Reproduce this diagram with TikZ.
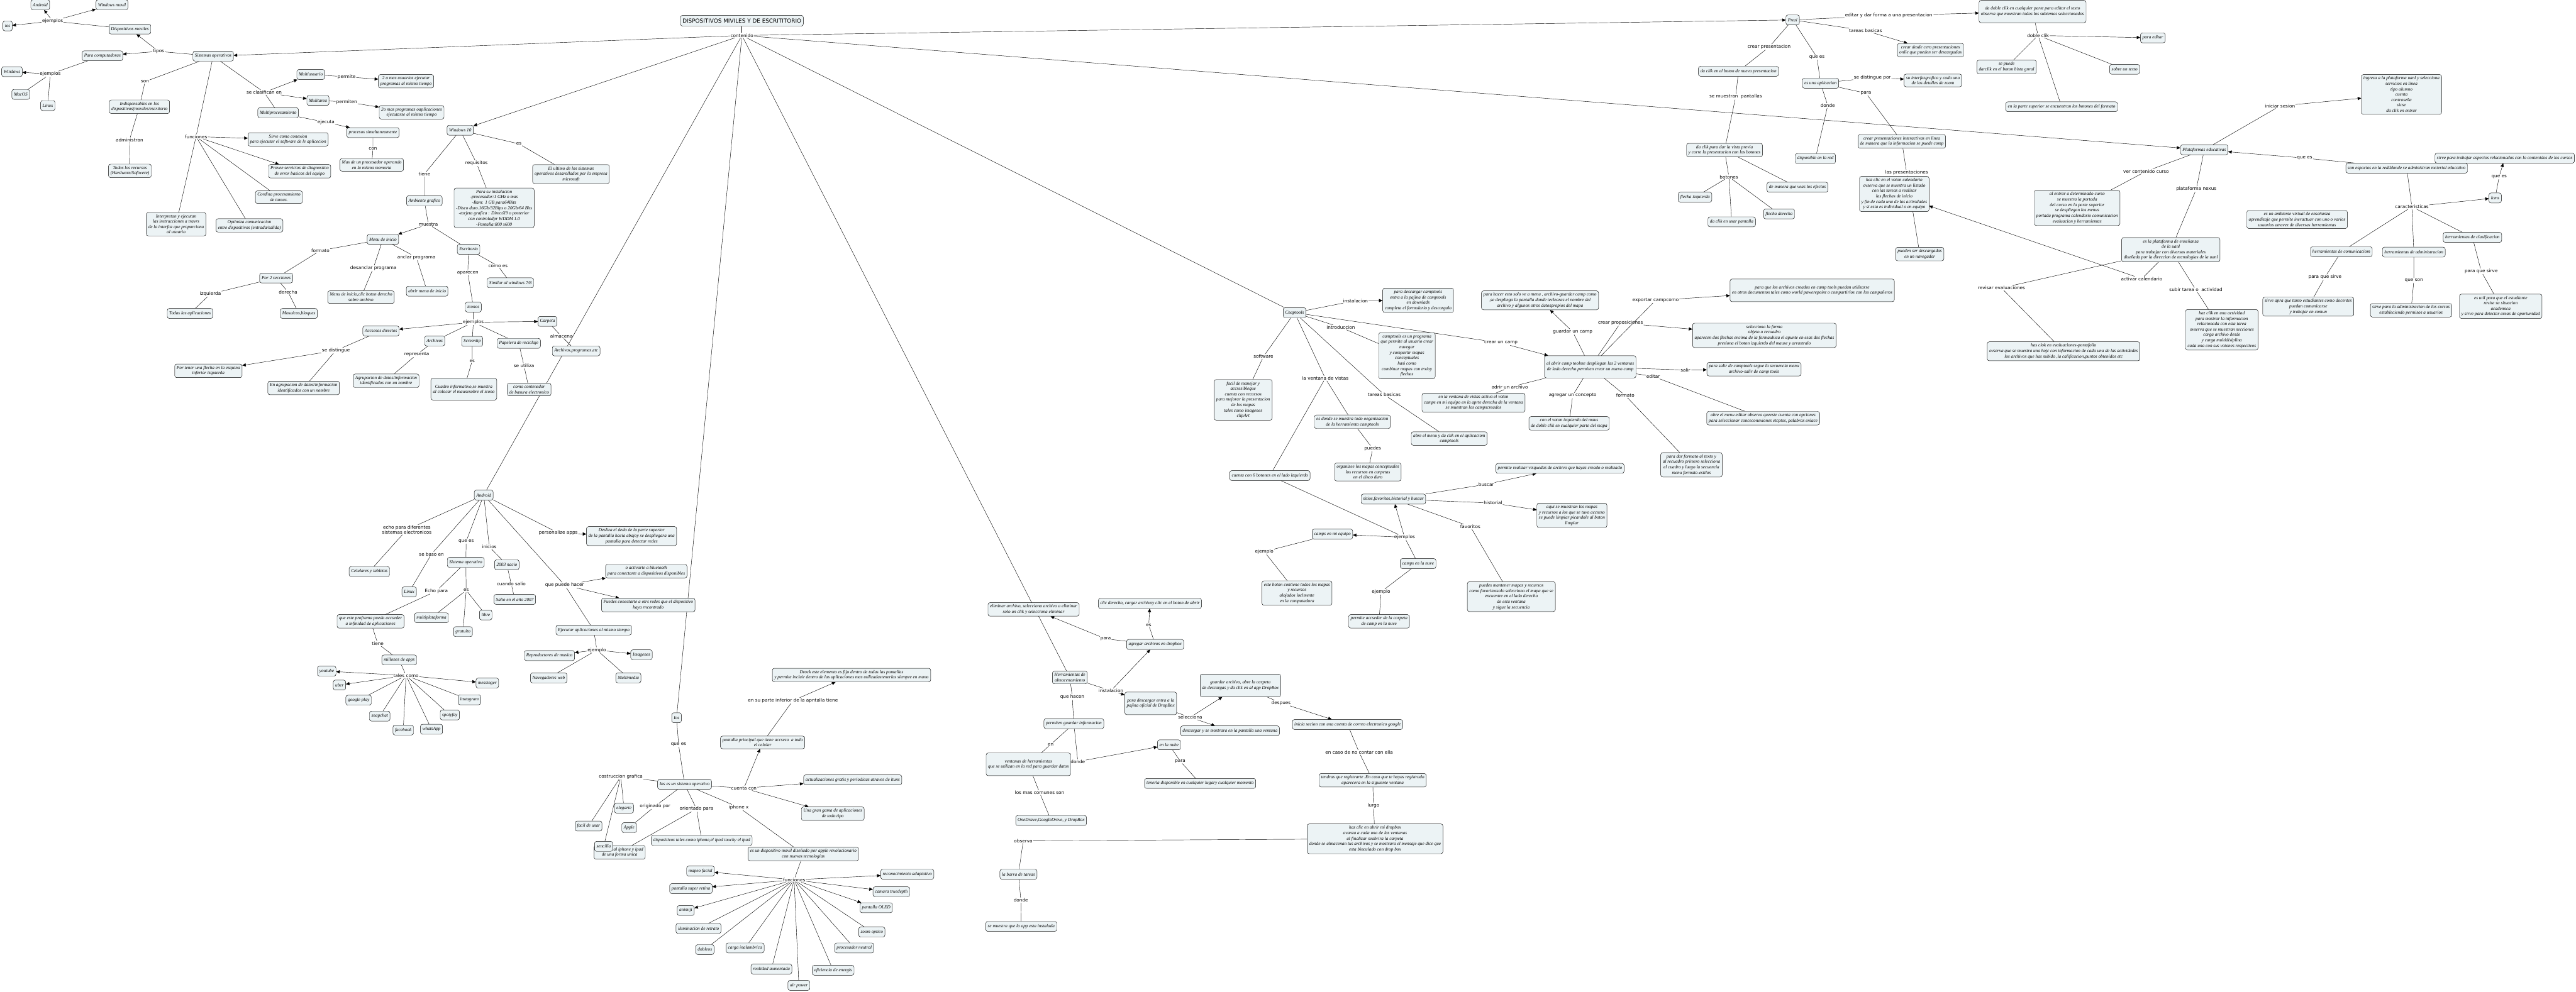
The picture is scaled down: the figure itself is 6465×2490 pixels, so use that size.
\documentclass[tikz,border=0pt]{standalone}
\usepackage{fontspec}
\setmainfont{Liberation Serif}
\newfontfamily\lblfont{DejaVu Sans}
\usetikzlibrary{arrows.meta}
\definecolor{boxfill}{RGB}{236,243,245}
\newcommand\nodefnt{\fontsize{11.5}{13.6}\selectfont\itshape}
\newcommand\lblfnt{\lblfont\fontsize{11.5}{13}\selectfont}
\pgfdeclarelayer{bgl}\pgfdeclarelayer{edges}\pgfsetlayers{bgl,edges,main}
\begin{document}
\begin{tikzpicture}[x=1pt,y=-1pt,
 cbox/.style={draw=black, line width=0.7pt, fill=boxfill, rounded corners=5pt, inner xsep=5pt, inner ysep=5pt, minimum height=25pt, align=center, font=\nodefnt},
 lbl/.style={inner sep=1.5pt, align=center, font=\lblfnt},
 ln/.style={line width=0.7pt},
 arr/.style={line width=0.7pt, -{Triangle[length=9pt,width=8pt]}}]
\useasboundingbox (0,0) rectangle (6465,2490);
\begin{pgfonlayer}{bgl}\fill[white] (0,0) rectangle (6465,2490);\end{pgfonlayer}
% title
\node[cbox, font=\lblfont\fontsize{14}{16}\selectfont, minimum height=27pt] (T) at (1862,52) {DISPOSITIVOS MIVILES Y DE ESCRITITORIO};
\node[lbl] (L0) at (1862,89) {contenido};
% ---------- Sistemas operativos
\node[cbox] (so) at (535,141) {Sistemas operativos};
\node[lbl] (l_tipos) at (398,129) {tipos};
\node[cbox] (dm) at (326,73) {Dispositivos moviles};
\node[cbox] (pc) at (257,140) {Para computadoras};
\node[lbl] (l_ej1) at (132,53) {ejemplos};
\node[cbox] (and1) at (101,12) {Android};
\node[cbox] (wm) at (281,12) {Windows movil};
\node[cbox] (ios1) at (19,65) {ios};
\node[lbl] (l_ej2) at (126,186) {ejemplos};
\node[cbox] (win) at (30,180) {Windows};
\node[cbox] (mac) at (52,237) {MacOS};
\node[cbox] (lin1) at (120,265) {Linux};
\node[lbl] (l_son) at (364,205) {son};
\node[cbox] (indis) at (350,268) {Indispensables en los\\dispositivos(moviles/escritorio};
\node[lbl] (l_adm) at (325,351) {administran};
\node[cbox] (todos) at (326,429) {Todos los recursos\\(Hardware/Softwere)};
\node[lbl] (l_fun) at (492,343) {funciones};
\node[cbox] (sirve) at (723,350) {Sirve como conexion\\para ejecutar el software de le aplicecion};
\node[cbox] (provee) at (752,430) {Provee servicios de diagnostico\\de error basicos del equipo};
\node[cbox] (cordina) at (700,495) {Cordina procesamiento\\de tareas.};
\node[cbox] (interp) at (442,563) {Interpretan y ejecutan\\las instrucciones a travrs\\de la interfaz que proporciona\\al usuario};
\node[cbox] (optim) at (626,566) {Optimiza comunicacion\\entre dispositivos (entrada/salida)};
\node[lbl] (l_clas) at (663,232) {se clasifican en};
\node[cbox] (mu) at (780,187) {Multiusuario};
\node[lbl] (l_perm1) at (870,193) {permite};
\node[cbox] (mu2) at (1019,204) {2 o mas usuarios ejecutar\\programas al mismo tiempo};
\node[cbox] (mt) at (798,252) {Mulitarea};
\node[lbl] (l_perm2) at (870,256) {permiten};
\node[cbox] (mt2) at (1033,282) {2o mas programas oaplicaciones\\ejecutarse al mismo tiempo};
\node[cbox] (mp) at (698,283) {Multiprocesamiento};
\node[lbl] (l_ejec) at (818,307) {ejecuta};
\node[cbox] (proc) at (936,333) {procesos simultaneamente};
\node[lbl] (l_con) at (936,373) {con};
\node[cbox] (masp) at (933,414) {Mas de un procesador operando\\en la misma memoria};
% ---------- Windows 10
\node[cbox] (w10) at (1155,327) {Windows 10};
\node[lbl] (l_es1) at (1302,361) {es};
\node[cbox] (ultimo) at (1433,437) {El ultimo de los sistemas\\operativos desarollados por la empresa\\microsoft};
\node[lbl] (l_req) at (1196,410) {requisitos};
\node[cbox] (req) at (1240,522) {Para su instalacion\\-procesador:1 GHz o mas\\-Ram: 1 GB para64Bits\\-Disco duro.16Gb/32Bips o 20Gb/64 Bits\\-tarjeta grafica : DirectX9 o posterior\\con controladpr WDDM 1.0\\-Pantalla:800 x600};
\node[lbl] (l_tiene1) at (1065,437) {tiene};
\node[cbox] (amb) at (1065,504) {Ambiente grafico};
\node[lbl] (l_muestra) at (1075,563) {muestra};
\node[cbox] (menu) at (961,601) {Menu de inicio};
\node[cbox] (escr) at (1176,626) {Escritorio};
\node[lbl] (l_formato1) at (804,629) {formato};
\node[cbox] (por2) at (693,698) {Por 2 secciones};
\node[lbl] (l_izq) at (528,738) {izquierda};
\node[lbl] (l_der) at (723,733) {derecha};
\node[cbox] (todas) at (477,787) {Todas las aplicaciones};
\node[cbox] (mosa) at (750,787) {Mosaicos,bloques};
\node[lbl] (l_desan) at (937,673) {desanclar programa};
\node[cbox] (menuclic) at (906,746) {Menu de inicio,clic boton derecho\\sobre archivo};
\node[lbl] (l_anclar) at (1045,646) {anclar programa};
\node[cbox] (abrir) at (1072,731) {abrir menu de inicio};
\node[lbl] (l_comoes) at (1250,668) {como es};
\node[cbox] (simil) at (1281,710) {Similar al windows 7/8};
\node[lbl] (l_apar) at (1174,685) {aparecen};
\node[cbox] (iconos) at (1188,771) {iconos};
\node[lbl] (l_ej3) at (1188,809) {ejemplos};
\node[cbox] (carpeta) at (1374,807) {Carpeta};
\node[cbox] (accs) at (956,831) {Accsesos directos};
\node[cbox] (archivos) at (1091,856) {Archivos};
\node[cbox] (screen) at (1185,857) {Screentip};
\node[cbox] (papel) at (1302,862) {Papelera de reciclaje};
\node[lbl] (l_alm) at (1409,844) {almacena};
\node[cbox] (archprog) at (1446,881) {Archivos,programas,etc};
\node[lbl] (l_sedist) at (843,880) {se distingue};
\node[cbox] (portener) at (523,931) {Por tener una flecha en la esquina\\inferior izquierda};
\node[cbox] (enagrup) at (762,974) {En agrupacion de datos/informacion\\identificados con un nombre};
\node[lbl] (l_repr) at (1046,890) {representa};
\node[cbox] (agrup) at (969,956) {Agrupacion de datos/informacion\\identificados con un nombre};
\node[lbl] (l_es2) at (1185,906) {es};
\node[cbox, minimum height=55pt] (cuadro) at (1164,977) {Cuadro informativo,se muestra\\al colocar el mausesobre el icono};
\node[lbl] (l_seutil) at (1315,918) {se utiliza};
\node[cbox] (conten) at (1328,978) {como contenedor\\de basura electronico};
% ---------- Android
\node[cbox] (and2) at (1214,1243) {Android};
\node[lbl] (l_echo) at (1021,1330) {echo para diferentes\\sistemas electronicos};
\node[cbox] (cel) at (927,1435) {Celulares y tabletas};
\node[lbl] (l_baso) at (1083,1391) {se baso en};
\node[cbox] (lin2) at (1027,1486) {Linux};
\node[lbl] (l_quees1) at (1170,1359) {que es};
\node[cbox] (soa) at (1169,1412) {Sistema operativo};
\node[lbl] (l_inicios) at (1228,1373) {inicios};
\node[cbox] (nacio) at (1272,1418) {2003 nacio};
\node[lbl] (l_salio) at (1283,1466) {cuando salio};
\node[cbox] (salio) at (1292,1505) {Salio en el año 2007};
\node[lbl] (l_echo2) at (1095,1484) {Echo para};
\node[lbl] (l_es3) at (1170,1482) {es};
\node[cbox] (multi) at (1083,1551) {multiplataforma};
\node[cbox] (libre) at (1219,1544) {libre};
\node[cbox] (grat) at (1162,1586) {gratuito};
\node[cbox] (infin) at (930,1560) {que este proframa pueda accseder\\a infinidad de aplicaciones};
\node[lbl] (l_tiene2) at (948,1616) {tiene};
\node[cbox] (millones) at (1002,1657) {millones de apps};
\node[lbl] (l_tales) at (1019,1696) {tales como};
\node[cbox] (youtube) at (820,1685) {youtube};
\node[cbox] (uber) at (852,1720) {uber};
\node[cbox] (gplay) at (900,1758) {google play};
\node[cbox] (snap) at (953,1798) {snapchat};
\node[cbox] (fb) at (1012,1833) {facebook};
\node[cbox] (wa) at (1083,1831) {whatsApp};
\node[cbox] (spot) at (1129,1795) {spotyfay};
\node[cbox] (insta) at (1178,1757) {instagram};
\node[cbox] (mess) at (1223,1715) {messinger};
\node[lbl] (l_pers) at (1401,1338) {personalize apps};
\node[cbox] (desliza) at (1585,1346) {Desliza el dedo de la parte superior\\de la pantalla hacia abajoy se despliegara una\\pantalla para detectar redes};
\node[lbl] (l_puede) at (1417,1469) {que puede hacer};
\node[cbox] (activ) at (1622,1434) {o activarte a bluetooth\\para conectarte a dispositivos disponibles};
\node[cbox] (conect) at (1627,1519) {Puedes conectarte a otrs redes que el dispositivo\\haya rncontrado};
\node[cbox] (ejec) at (1490,1582) {Ejecutar aplicaciones al mismo tiempo};
\node[lbl] (l_ej4) at (1498,1632) {ejemplo};
\node[cbox] (repro) at (1379,1646) {Reproductores de musica};
\node[cbox] (imag) at (1610,1644) {Imagenes};
\node[cbox] (naveg) at (1377,1702) {Navegadores web};
\node[cbox] (multim) at (1577,1702) {Multimedia};
% ---------- Ios
\node[cbox] (ios2) at (1698,1802) {Ios};
\node[lbl] (l_quees2) at (1703,1869) {que es};
\node[cbox] (iosso) at (1718,1969) {Ios es un sistema operativo};
\node[lbl] (l_cuenta) at (1867,1979) {cuenta con};
\node[cbox] (actual) at (2140,1958) {actualizaciones gratis y periodicas atraves de ituns};
\node[cbox] (gama) at (2090,2043) {Una gran gama de aplicaciones\\de todo tipo};
\node[cbox] (pprinc) at (1914,1864) {pantalla principal que tiene accseso \ a todo\\el celular};
\node[lbl] (l_inf) at (1990,1759) {en su parte inferior de la apntalla tiene};
\node[cbox] (drock) at (2137,1695) {Drock este elemento es fijo dentro de todas las pantallas\\y permite incluir dentro de las aplicaciones mas utilizadastenerlas siempre en mano};
\node[lbl] (l_costr) at (1558,1950) {costruccion grafica};
\node[cbox] (eleg) at (1566,2029) {elegarte};
\node[cbox] (facil) at (1477,2074) {facil de usar};
\node[cbox] (apple) at (1579,2078) {Apple};
\node[lbl] (l_orig) at (1644,2024) {originado por};
\node[cbox] (diseno) at (1555,2140) {diseñado al iphone y ipad\\de una forma unica};
\node[cbox] (senc) at (1515,2125) {sencilla};
\node[lbl] (l_orient) at (1748,2031) {orientado para};
\node[cbox] (dispt) at (1761,2110) {dispositivos tales como iphone,el ipod touchy el ipad};
\node[lbl] (l_iphx) at (1854,2027) {iphone x};
\node[cbox] (esdisp) at (2016,2144) {es un dispositivo movil diseñado por apple revolucionario\\con nuevas tecnologias};
\node[lbl] (l_func2) at (1993,2209) {funciones};
\node[cbox] (mapeo) at (1758,2187) {mapeo facial};
\node[cbox] (pantsr) at (1734,2231) {pantalla super retina};
\node[cbox] (animiji) at (1721,2286) {animiji};
\node[cbox] (ilum) at (1753,2331) {iluminacion de retrato};
\node[cbox] (dobleos) at (1769,2384) {dobleos};
\node[cbox] (carga) at (1870,2380) {carga inalambrica};
\node[cbox] (realidad) at (1936,2433) {realidad aumentada};
\node[cbox] (air) at (2005,2474) {air power};
\node[cbox] (efic) at (2091,2436) {eficiencia de energis};
\node[cbox] (procn) at (2144,2380) {procesador neutral};
\node[cbox] (zoom) at (2188,2340) {zoom optico};
\node[cbox] (oled) at (2199,2279) {pantalla OLED};
\node[cbox] (camara) at (2237,2239) {camara truedepth};
\node[cbox] (recon) at (2277,2195) {reconocimiento adaptativo};
% ---------- Herramientas de almacenamiento
\node[cbox] (herr) at (2685,1701) {Herramientas de\\almacenamiento};
\node[lbl] (l_inst2) at (2788,1734) {instalacion};
\node[cbox, minimum height=57pt] (paradesc) at (2888,1766) {para descargar entra a la\\pajina oficial de DropBox};
\node[lbl] (l_selec) at (2987,1801) {selecciona};
\node[cbox, minimum height=57pt] (guardar) at (3113,1721) {guardar archivo, abre la carpeta\\de descargas y da clik en al app DropBox};
\node[cbox] (descargar) at (3087,1835) {descargar y se mostrara en la pantalla una ventana};
\node[lbl] (l_desp) at (3215,1765) {despues};
\node[cbox] (inicia) at (3382,1819) {inicia secion con una cuenta de correo electronico google};
\node[lbl] (l_caso) at (3411,1889) {en caso de no contar con ella};
\node[cbox] (tendras) at (3445,1959) {tendras que registrarte .En caso que te hayas registrado\\aparecera en la siguiente ventana};
\node[lbl] (l_lurgo) at (3447,2023) {lurgo};
\node[cbox] (hazclic) at (3451,2106) {haz clic en abrir mi dropbox\\avanza a cada una de las ventanas\\al finalizar seabrira la carpeta\\donde se almacenan tus archivos y se mostrara el mensaje que dice que\\esta binculado con drop box};
\node[lbl] (l_obs) at (2568,2111) {observa};
\node[cbox] (barra) at (2556,2195) {la barra de tareas};
\node[lbl] (l_donde3) at (2562,2260) {donde};
\node[cbox] (semuestra) at (2563,2326) {se muestra que la app esta instalada};
\node[lbl] (l_hacen) at (2691,1750) {que hacen};
\node[cbox] (permiten) at (2695,1817) {permiten guardar informacion};
\node[lbl] (l_en) at (2637,1869) {en};
\node[cbox, minimum height=57pt] (ventanas) at (2581,1919) {ventanas de herramientas\\que se utilizan en la red para guardar datos};
\node[lbl] (l_donde2) at (2705,1912) {donde};
\node[cbox] (nube) at (2934,1870) {en la nube};
\node[lbl] (l_para3) at (2962,1911) {para};
\node[cbox] (tenerla) at (3012,1967) {tenerla disponible en cualquier lugary cualquier momento};
\node[lbl] (l_comunes) at (2609,1990) {los mas comunes son};
\node[cbox] (onedr) at (2638,2060) {OneDrave,GoogleDreve, y DropBox};
\node[cbox] (agregar) at (2899,1618) {agregar archivos en dropbox};
\node[lbl] (l_para2) at (2775,1604) {para};
\node[cbox] (elim) at (2594,1530) {eliminar archivo, selecciona archivo a eliminar\\solo un clik y selecciona eliminar};
\node[lbl] (l_es4) at (2883,1569) {es};
\node[cbox] (clicder) at (2886,1515) {clic derecho, cargar archivoy clic en el boton de abrir};
% ---------- Cnaptools
\node[cbox] (cnap) at (3249,785) {Cnaptools};
\node[lbl] (l_inst1) at (3402,755) {instalacion};
\node[cbox] (paradesc2) at (3559,754) {para descargar camptools\\entra a la pajina de camptools\\en downlads\\completa el formulario y descargalo};
\node[lbl] (l_intro) at (3365,822) {introduccion};
\node[cbox] (camptools) at (3531,893) {camptools es un programa\\que permite al usuario crear\\navegar\\y compartir mapas\\conceptuales\\hasi como\\combinar mapas con trxioy\\flechas};
\node[lbl] (l_crearcamp) at (3767,861) {crear un camp};
\node[cbox, minimum height=56pt] (alabrir) at (3991,921) {al abrir camp toolsse despliegan las 2 ventanas\\de lado derecho permiten crear un nuevo camp};
\node[lbl] (l_salir) at (4230,929) {salir};
\node[cbox] (parasalir) at (4402,927) {para salir de camptools segue la secuencia menu\\archivo-salir de camp tools};
\node[lbl] (l_editar) at (4149,945) {editar};
\node[cbox] (abreeditar) at (4425,1050) {abre el menu editar observa queeste cuenta con opciones\\para seleccionar conceconexiones etcptos, palabras enlace};
\node[lbl] (l_adrir) at (3789,972) {adrir un archivo};
\node[cbox] (enlaventana) at (3698,1011) {en la ventana de vistas activa el voton\\camps en mi equipo en la aprte derecha de la ventana\\se muestran los campscreados};
\node[lbl] (l_agregar) at (3947,993) {agregar un concepto};
\node[cbox] (conelvoton) at (3938,1063) {con el voton izquierdo del maus\\de doble clik en cualquier parte del mapa};
\node[lbl] (l_formato2) at (4079,993) {formato};
\node[cbox] (paradar) at (4245,1167) {para dar formato al texto y\\al recuadro primero selecciona\\el cuadro y luego la secuencia\\menu formato-estilos};
\node[lbl] (l_guardar) at (3947,833) {guardar un camp};
\node[cbox] (parahacer) at (3865,754) {para hacer esto solo ve a menu , archivo-guardar camp como\\,se despliega la pantalla donde teclearas el nombre del\\archivo y algunos otros datospropios del mapa};
\node[lbl] (l_export) at (4155,754) {exportar campcomo};
\node[cbox, minimum height=57pt] (paraque) at (4548,729) {para que los archivos creados en camp tools puedan utilizarse\\en otros documentos tales como world pawerepoint o compartirlos con los campañeros};
\node[lbl] (l_crearprop) at (4067,811) {crear proposiciones};
\node[cbox] (selecc) at (4428,842) {selecciona la forma\\objeto o recuadro\\aparecen dos flechas encima de la formaubica el apunte en esas dos flechas\\presiona el boton izquierdo del mause y arrastralo};
\node[lbl] (l_vistas) at (3326,950) {la ventana de vistas};
\node[cbox] (esdonde) at (3394,1059) {es donde se muestra todo oeganizacion\\de la herramienta camptools};
\node[lbl] (l_puedes) at (3445,1126) {puedes};
\node[cbox] (organ) at (3433,1185) {organizee los mapas conceptuales\\los recursos en carpetas\\en el disco duro};
\node[lbl] (l_tareas1) at (3474,991) {tareas basicas};
\node[cbox] (abremenu) at (3637,1101) {abre el menu y da clik en el aplicaciom\\camptools};
\node[lbl] (l_soft) at (3171,895) {software};
\node[cbox] (facilm) at (3120,1004) {facil de manejar y\\accsesibleque\\cuenta con recursos\\para mejorar la presentacion\\de los mapas\\tales como imagenes\\clipArt};
\node[cbox] (seisbot) at (3187,1194) {cuenta con 6 botones en el lado izquierdo};
\node[lbl] (l_ej5) at (3525,1349) {ejemplos};
\node[cbox] (mieq) at (3344,1341) {camps en mi equipo};
\node[cbox] (sitios) at (3497,1253) {sitios,favoritos,historial y buscar};
\node[cbox] (nuve) at (3559,1415) {camps en la nuve};
\node[lbl] (l_buscar) at (3730,1216) {buscar};
\node[cbox] (permreal) at (3915,1176) {permite realizar visquedas de archivo que hayas creado o realizado};
\node[lbl] (l_hist) at (3747,1263) {historial};
\node[cbox] (aqui) at (3945,1294) {aqui se muestran los mapas\\y recursos a los que se tuvo accseso\\se puede limpiar picandole al boton\\limpiar};
\node[lbl] (l_fav) at (3690,1322) {favoritos};
\node[cbox] (puedesm) at (3793,1498) {puedes mantener mapas y recursos\\como favoritossolo selecciona el mapa que se\\encuentre en el lado derecho\\de esta ventana\\y sigue la secuencia};
\node[lbl] (l_ej6) at (3173,1385) {ejemplo};
\node[cbox] (esteboton) at (3255,1489) {este boton contiene todos los mapas\\y recursos\\alojados loclmente\\en la computadora};
\node[lbl] (l_ej7) at (3466,1486) {ejemplo};
\node[cbox] (permacc) at (3461,1560) {permite accseder de la carpeta\\de camp en la nuve};
% ---------- Prezi
\node[cbox] (prezi) at (4499,50) {Prezi};
\node[lbl] (l_editardar) at (4740,39) {editar y dar forma a una presentacion};
\node[cbox, minimum height=56pt] (dadoble) at (5101,29) {da doble clik en cualquier parte para editar el texto\\observa que muestran todos los subtemas seleccionados};
\node[lbl] (l_doble) at (5115,89) {doble clik};
\node[cbox] (paraeditar) at (5403,95) {para editar};
\node[cbox] (sepuede) at (5036,168) {se puede\\darclik en el boton bista gnral};
\node[cbox] (sobre) at (5332,174) {sobre un texto};
\node[cbox] (enlaparte) at (5174,268) {en la parte superior se encuentran los botones del formato};
\node[lbl] (l_tareas2) at (4682,77) {tareas basicas};
\node[cbox] (creardesde) at (4845,126) {crear desde cero presentaciones\\onlie que pueden ser descargadas};
\node[lbl] (l_crearpres) at (4440,118) {crear presentacion};
\node[cbox] (daclikboton) at (4363,179) {da clik en el boton de nueva presentacion};
\node[lbl] (l_quees3) at (4560,144) {que es};
\node[cbox] (esapp) at (4569,209) {es una aplicacion};
\node[lbl] (l_distpor) at (4699,195) {se distingue por};
\node[cbox] (interfaz) at (4851,202) {su interfazgrafica y cada uno\\de los detalles de zoom};
\node[lbl] (l_para1) at (4683,234) {para};
\node[lbl] (l_donde1) at (4587,265) {donde};
\node[cbox] (disponible) at (4556,398) {disponible en la red};
\node[cbox] (crearpres) at (4773,355) {crear presentaciones interactivas en linea\\de manera que la informacion se puede comp};
\node[lbl] (l_laspres) at (4785,434) {las presentaciones};
\node[cbox] (pueden) at (4818,638) {pueden ser descargadas\\en un navegador};
\node[lbl] (l_semuestran) at (4356,243) {se muestran \ pantallas};
\node[cbox] (daclikvista) at (4328,377) {da clik para dar la vista previa\\y corre la presentacion con los botones};
\node[lbl] (l_botones) at (4339,444) {botones};
\node[cbox] (demanera) at (4511,470) {de manera que veas los efectos};
\node[cbox] (flechaiz) at (4254,495) {flecha izquierda};
\node[cbox] (usarp) at (4346,557) {da clik en usar pantalla};
\node[cbox] (flechade) at (4465,537) {flecha derecha};
\node[cbox] (hazclicvoton) at (4754,487) {haz clic en el voton calendario\\ovserva que se muestra un listado\\con las tareas a realizar\\las flechas de inicio\\y fin de cada una de las actividades\\y si esta es individual o en equipo};
% ---------- Plataformas educativas
\node[cbox] (plat) at (5532,376) {Plataformas educativas};
\node[lbl] (l_inic) at (5722,266) {iniciar sesion};
\node[cbox] (ingresa) at (6027,237) {ingresa a la plataforma uanl y selecciona\\servicios en linea\\tipo alumno\\cuenta\\contraseña\\sicse\\da clik en entrar};
\node[lbl] (l_quees4) at (5784,397) {que es};
\node[cbox] (sonesp) at (6040,422) {son espacios en la redddonde se administran mcterial educativo};
\node[cbox] (sirvetrab) at (6286,397) {sirve para trabajar aspectos relacionados con lo contenidos de los cursos};
\node[lbl] (l_quees5) at (6272,444) {que es};
\node[cbox] (lcms) at (6262,497) {lcms};
\node[lbl] (l_carac) at (6053,519) {caracteristicas};
\node[cbox] (hcom) at (5876,632) {herramientas de comunicaciom};
\node[cbox] (hadm) at (6058,633) {herramientas de administracion};
\node[cbox] (hcla) at (6205,596) {herramientas de clasificacion};
\node[lbl] (l_pqs1) at (5835,696) {para que sirve};
\node[cbox] (sirveapra) at (5793,770) {sirve apra que tanto estudiantes como docentes\\puedan comunicarse\\y trabajar en comun};
\node[lbl] (l_queson) at (6058,704) {que son};
\node[cbox] (sirveadm) at (6051,779) {sirve para la administracion de los cursos\\estableciendo permisos a usuarios};
\node[lbl] (l_pqs2) at (6227,681) {para que sirve};
\node[cbox] (esutil) at (6276,769) {es util para que el estudiante\\revise su situacion\\academica\\y sirve para detectar areas de oportunidad};
\node[cbox] (ambiente) at (5765,551) {es un ambiente virtual de enseñanza\\aprendizaje que permite ineractuar con uno o varios\\usuarios atravez de diversas herramientas};
\node[lbl] (l_vercont) at (5386,430) {ver contenido curso};
\node[cbox] (alentrar) at (5213,522) {al entrar a determinado curso\\se muestra la portada\\del curso en la parte superior\\se despliegan los menus\\portada programa calendario comunicacion\\evaluacion y herramientas};
\node[lbl] (l_nexus) at (5512,475) {plataforma nexus};
\node[cbox] (esplat) at (5448,627) {es la plataforma de enseñanza\\de la uanl\\para trabajar con diversos materiales\\diseñada por la direccion de tecnologias de la uanl};
\node[lbl] (l_activ) at (5375,700) {activar calendario};
\node[lbl] (l_revis) at (5023,723) {revisar evaluaciones};
\node[lbl] (l_subir) at (5511,728) {subir tarea o \ actividad};
\node[cbox] (hazclik) at (5576,828) {haz clik en una actividad\\para mostrar la informacion\\relacionada con esta tarea\\ovserva que se muestran secciones\\carga archivo desde\\y carga multidisiplina\\cada una con sus votones respectivos};
\node[cbox] (hasclok) at (5179,882) {has clok en evaluaciones-portafolio\\ovserva que se muestra una hojc con informacion de cada una de las actividades\\los archivos que has subido ,la calificacion,puntos obtenidos etc};
% ================= EDGES
\begin{pgfonlayer}{edges}
\draw[ln] (T) -- (L0);
\draw[arr] (L0) -- (so);
\draw[arr] (L0) -- (w10);
\draw[ln] (L0) -- (and2);
\draw[ln] (L0) -- (ios2);
\draw[ln] (L0) -- (herr);
\draw[ln] (L0) -- (cnap);
\draw[arr] (L0) -- (plat);
\draw[arr] (L0) -- (prezi);
% SO
\draw[ln] (so) -- (l_tipos); \draw[arr] (l_tipos) -- (dm); \draw[arr] (l_tipos) -- (pc);
\draw[ln] (dm) -- (l_ej1); \draw[arr] (l_ej1) -- (and1); \draw[arr] (l_ej1) -- (wm); \draw[arr] (l_ej1) -- (ios1);
\draw[ln] (pc) -- (l_ej2); \draw[arr] (l_ej2) -- (win); \draw[ln] (l_ej2) -- (mac); \draw[ln] (l_ej2) -- (lin1);
\draw[ln] (so) -- (l_son) -- (indis) -- (l_adm) -- (todos);
\draw[ln] (so) -- (l_fun); \draw[arr] (l_fun) -- (sirve); \draw[arr] (l_fun) -- (provee);
\draw[ln] (l_fun) -- (cordina); \draw[ln] (l_fun) -- (interp); \draw[ln] (l_fun) -- (optim);
\draw[ln] (so) -- (l_clas); \draw[arr] (l_clas) -- (mu); \draw[arr] (l_clas) -- (mt); \draw[ln] (l_clas) -- (mp);
\draw[ln] (mu) -- (l_perm1); \draw[arr] (l_perm1) -- (mu2);
\draw[ln] (mt) -- (l_perm2); \draw[arr] (l_perm2) -- (mt2);
\draw[ln] (mp) -- (l_ejec); \draw[arr] (l_ejec) -- (proc);
\draw[ln] (proc) -- (l_con) -- (masp);
% W10
\draw[ln] (w10) -- (l_es1) -- (ultimo);
\draw[ln] (w10) -- (l_req) -- (req);
\draw[ln] (w10) -- (l_tiene1) -- (amb) -- (l_muestra);
\draw[arr] (l_muestra) -- (menu); \draw[ln] (l_muestra) -- (escr);
\draw[ln] (menu) -- (l_formato1) -- (por2);
\draw[ln] (por2) -- (l_izq) -- (todas); \draw[ln] (por2) -- (l_der) -- (mosa);
\draw[ln] (menu) -- (l_desan) -- (menuclic);
\draw[ln] (menu) -- (l_anclar) -- (abrir);
\draw[ln] (escr) -- (l_comoes) -- (simil);
\draw[ln] (escr) -- (l_apar) -- (iconos) -- (l_ej3);
\draw[arr] (l_ej3) -- (carpeta); \draw[arr] (l_ej3) -- (accs);
\draw[ln] (l_ej3) -- (archivos); \draw[ln] (l_ej3) -- (screen); \draw[ln] (l_ej3) -- (papel);
\draw[ln] (carpeta) -- (l_alm) -- (archprog);
\draw[ln] (accs) -- (l_sedist); \draw[arr] (l_sedist) -- (portener); \draw[ln] (l_sedist) -- (enagrup);
\draw[ln] (archivos) -- (l_repr) -- (agrup);
\draw[ln] (screen) -- (l_es2) -- (cuadro);
\draw[ln] (papel) -- (l_seutil) -- (conten);
% Android
\draw[ln] (and2) -- (l_echo) -- (cel);
\draw[ln] (and2) -- (l_baso) -- (lin2);
\draw[ln] (and2) -- (l_quees1) -- (soa);
\draw[ln] (and2) -- (l_inicios) -- (nacio) -- (l_salio) -- (salio);
\draw[ln] (and2) -- (l_pers); \draw[arr] (l_pers) -- (desliza);
\draw[ln] (and2) -- (l_puede); \draw[arr] (l_puede) -- (activ); \draw[arr] (l_puede) -- (conect); \draw[ln] (l_puede) -- (ejec);
\draw[ln] (soa) -- (l_echo2) -- (infin) -- (l_tiene2) -- (millones) -- (l_tales);
\draw[arr] (l_tales) -- (youtube); \draw[arr] (l_tales) -- (uber); \draw[arr] (l_tales) -- (mess);
\draw[ln] (l_tales) -- (gplay); \draw[ln] (l_tales) -- (snap); \draw[ln] (l_tales) -- (fb);
\draw[ln] (l_tales) -- (wa); \draw[ln] (l_tales) -- (spot); \draw[ln] (l_tales) -- (insta);
\draw[ln] (soa) -- (l_es3); \draw[ln] (l_es3) -- (multi); \draw[ln] (l_es3) -- (libre); \draw[ln] (l_es3) -- (grat);
\draw[ln] (ejec) -- (l_ej4); \draw[arr] (l_ej4) -- (repro); \draw[arr] (l_ej4) -- (imag);
\draw[ln] (l_ej4) -- (naveg); \draw[ln] (l_ej4) -- (multim);
% Ios
\draw[ln] (ios2) -- (l_quees2) -- (iosso);
\draw[ln] (iosso) -- (l_cuenta); \draw[arr] (l_cuenta) -- (actual); \draw[arr] (l_cuenta) -- (gama); \draw[arr] (l_cuenta) -- (pprinc);
\draw[ln] (pprinc) -- (l_inf); \draw[arr] (l_inf) -- (drock);
\draw[ln] (iosso) -- (l_costr); \draw[ln] (l_costr) -- (eleg); \draw[ln] (l_costr) -- (facil); \draw[ln] (l_costr) -- (senc);
\draw[ln] (iosso) -- (l_orig) -- (apple);
\draw[ln] (iosso) -- (l_orient) -- (dispt); \draw[ln] (l_orient) -- (diseno);
\draw[ln] (iosso) -- (l_iphx) -- (esdisp) -- (l_func2);
\draw[arr] (l_func2) -- (mapeo); \draw[arr] (l_func2) -- (pantsr); \draw[arr] (l_func2) -- (animiji);
\draw[arr] (l_func2) -- (recon); \draw[arr] (l_func2) -- (camara); \draw[arr] (l_func2) -- (oled);
\draw[ln] (l_func2) -- (ilum); \draw[ln] (l_func2) -- (dobleos); \draw[ln] (l_func2) -- (carga);
\draw[ln] (l_func2) -- (realidad); \draw[ln] (l_func2) -- (air); \draw[ln] (l_func2) -- (efic);
\draw[ln] (l_func2) -- (procn); \draw[ln] (l_func2) -- (zoom);
% Almacenamiento
\draw[ln] (herr) -- (l_inst2); \draw[arr] (l_inst2) -- (paradesc); \draw[arr] (l_inst2) -- (agregar);
\draw[ln] (agregar) -- (l_para2); \draw[arr] (l_para2) -- (elim);
\draw[ln] (agregar) -- (l_es4); \draw[arr] (l_es4) -- (clicder);
\draw[ln] (paradesc) -- (l_selec); \draw[arr] (l_selec) -- (descargar); \draw[arr] (l_selec) -- (guardar);
\draw[ln] (guardar) -- (l_desp); \draw[arr] (l_desp) -- (inicia);
\draw[ln] (inicia) -- (l_caso) -- (tendras) -- (l_lurgo) -- (hazclic) -- (l_obs) -- (barra) -- (l_donde3) -- (semuestra);
\draw[ln] (herr) -- (l_hacen) -- (permiten) -- (l_en) -- (ventanas) -- (l_comunes) -- (onedr);
\draw[ln] (permiten) -- (l_donde2); \draw[arr] (l_donde2) -- (nube); \draw[ln] (nube) -- (l_para3) -- (tenerla);
% Cnaptools
\draw[ln] (cnap) -- (l_inst1); \draw[arr] (l_inst1) -- (paradesc2);
\draw[ln] (cnap) -- (l_intro) -- (camptools);
\draw[ln] (cnap) -- (l_crearcamp); \draw[arr] (l_crearcamp) -- (alabrir);
\draw[ln] (cnap) -- (l_vistas) -- (esdonde) -- (l_puedes) -- (organ);
\draw[ln] (l_vistas) -- (seisbot);
\draw[ln] (cnap) -- (l_tareas1) -- (abremenu);
\draw[ln] (cnap) -- (l_soft) -- (facilm);
\draw[ln] (alabrir) -- (l_salir); \draw[arr] (l_salir) -- (parasalir);
\draw[ln] (alabrir) -- (l_editar) -- (abreeditar);
\draw[ln] (alabrir) -- (l_adrir) -- (enlaventana);
\draw[ln] (alabrir) -- (l_agregar) -- (conelvoton);
\draw[ln] (alabrir) -- (l_formato2) -- (paradar);
\draw[ln] (alabrir) -- (l_guardar); \draw[arr] (l_guardar) -- (parahacer);
\draw[ln] (alabrir) -- (l_export); \draw[arr] (l_export) -- (paraque);
\draw[ln] (alabrir) -- (l_crearprop); \draw[arr] (l_crearprop) -- (selecc);
\draw[ln] (seisbot) -- (l_ej5); \draw[arr] (l_ej5) -- (mieq); \draw[arr] (l_ej5) -- (sitios); \draw[ln] (l_ej5) -- (nuve);
\draw[ln] (sitios) -- (l_buscar); \draw[arr] (l_buscar) -- (permreal);
\draw[ln] (sitios) -- (l_hist); \draw[arr] (l_hist) -- (aqui);
\draw[ln] (sitios) -- (l_fav) -- (puedesm);
\draw[ln] (mieq) -- (l_ej6) -- (esteboton);
\draw[ln] (nuve) -- (l_ej7) -- (permacc);
% Prezi
\draw[ln] (prezi) -- (l_editardar); \draw[arr] (l_editardar) -- (dadoble);
\draw[ln] (dadoble) -- (l_doble); \draw[arr] (l_doble) -- (paraeditar);
\draw[ln] (l_doble) -- (sepuede); \draw[ln] (l_doble) -- (sobre); \draw[ln] (l_doble) -- (enlaparte);
\draw[ln] (prezi) -- (l_tareas2); \draw[arr] (l_tareas2) -- (creardesde);
\draw[ln] (prezi) -- (l_crearpres) -- (daclikboton) -- (l_semuestran) -- (daclikvista) -- (l_botones);
\draw[ln] (l_botones) -- (flechaiz); \draw[ln] (l_botones) -- (usarp); \draw[ln] (l_botones) -- (flechade);
\draw[ln] (daclikvista) -- (demanera);
\draw[ln] (prezi) -- (l_quees3) -- (esapp);
\draw[ln] (esapp) -- (l_distpor); \draw[arr] (l_distpor) -- (interfaz);
\draw[ln] (esapp) -- (l_para1) -- (crearpres) -- (l_laspres) -- (pueden);
\draw[ln] (esapp) -- (l_donde1) -- (disponible);
% Plataformas
\draw[ln] (plat) -- (l_inic); \draw[arr] (l_inic) -- (ingresa);
\draw[ln] (sonesp) -- (l_quees4); \draw[arr] (l_quees4) -- (plat);
\draw[ln] (sonesp) -- (l_carac); \draw[arr] (l_carac) -- (lcms);
\draw[ln] (l_carac) -- (hcom); \draw[ln] (l_carac) -- (hadm); \draw[ln] (l_carac) -- (hcla);
\draw[ln] (lcms) -- (l_quees5); \draw[arr] (l_quees5) -- (sirvetrab);
\draw[ln] (hcom) -- (l_pqs1) -- (sirveapra);
\draw[ln] (hadm) -- (l_queson) -- (sirveadm);
\draw[ln] (hcla) -- (l_pqs2) -- (esutil);
\draw[ln] (plat) -- (l_vercont) -- (alentrar);
\draw[ln] (plat) -- (l_nexus) -- (esplat);
\draw[ln] (esplat) -- (l_activ); \draw[arr] (l_activ) -- (hazclicvoton);
\draw[ln] (esplat) -- (l_revis) -- (hasclok);
\draw[ln] (esplat) -- (l_subir) -- (hazclik);
\end{pgfonlayer}
\end{tikzpicture}
\end{document}
